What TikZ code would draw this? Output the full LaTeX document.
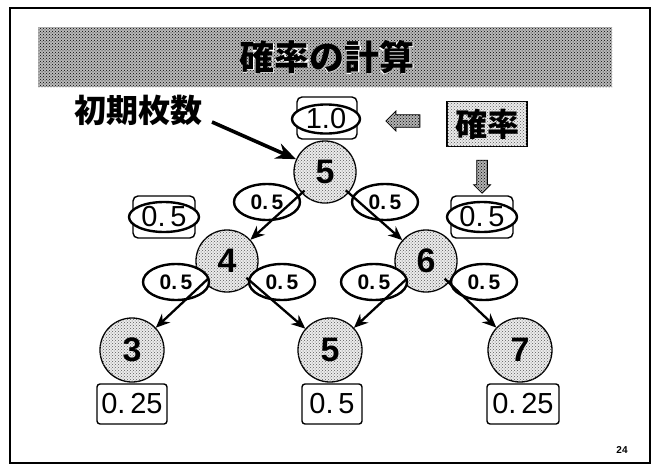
\documentclass[tikz,border=0pt]{standalone}
\usepackage{fontspec}
\setmainfont{Liberation Sans}
\newfontfamily\jp{Noto Sans CJK JP}
\newfontfamily\jphalo[FakeBold=6]{Noto Sans CJK JP}
\usetikzlibrary{shapes.geometric,shapes.arrows,arrows.meta,patterns}
\begin{document}
\begin{tikzpicture}[x=1pt,y=-1pt,
  texfill/.style={fill=gray!15,postaction={pattern=crosshatch dots,pattern color=gray!70!black}},
  darktex/.style={fill=gray!60,postaction={pattern=crosshatch dots,pattern color=black}},
  circ/.style={circle,draw,line width=1.3pt,texfill,minimum size=64pt,inner sep=0pt,
    font=\fontsize{34}{34}\selectfont\bfseries},
  pell/.style={ellipse,draw,line width=2.4pt,fill=white,minimum width=66pt,minimum height=36pt,inner sep=0pt,
    font=\fontsize{21}{21}\selectfont\bfseries},
  resbox/.style={rectangle,rounded corners=3pt,draw,line width=1.4pt,fill=white,minimum height=40pt,inner sep=0pt,
    font=\fontsize{29}{29}\selectfont},
  ovbox/.style={rectangle,rounded corners=5pt,draw,line width=1.4pt,fill=white,minimum width=62pt,minimum height=42pt,inner sep=0pt},
  ovell/.style={ellipse,draw,line width=2.4pt,fill=white,minimum width=70pt,minimum height=30pt,inner sep=0pt,
    font=\fontsize{29}{29}\selectfont},
  arr/.style={-{Stealth[length=14pt,width=12pt]},line width=2.3pt},
  blockarr/.style={single arrow,draw,line width=0.8pt,darktex,minimum height=32pt,minimum width=20pt,
    single arrow head extend=2pt,single arrow tip angle=90,inner sep=3pt}
]
\useasboundingbox (0,0) rectangle (661,474);
% frame
\draw[line width=1.3pt] (10,8) rectangle (650,463);
% title banner
\path[fill=gray!55,postaction={pattern=crosshatch dots,pattern color=black}] (38,27) rectangle (612,87);
\node[white,font=\jphalo\fontsize{35}{35}\selectfont] (titlehalo) at (327,57) {確率の計算};
\node[font=\jp\bfseries\fontsize{35}{35}\selectfont] (title) at (327,57) {確率の計算};
% top row
\node[font=\jp\bfseries\fontsize{32}{32}\selectfont] (init) at (138,110) {初期枚数};
\node[ovbox,minimum width=60pt] (b10) at (327,118) {};
\node[ovell,minimum width=68pt,minimum height=28pt] (e10) at (326,119) {1.0};
\node[blockarr,shape border rotate=180,minimum height=34pt] (larr) at (406,121) {};
\node[rectangle,draw,line width=1.2pt,texfill,minimum width=80pt,minimum height=45pt,inner sep=0pt,
  font=\jp\bfseries\fontsize{32}{32}\selectfont] (prob) at (487,124) {確率};
\node[blockarr,shape border rotate=270,minimum height=33pt,minimum width=17pt] (darr) at (482,174) {};
% side probability boxes
\node[ovbox] (bl) at (164,217) {};
\node[ovell] (el) at (164,217) {0.\,5};
\node[ovbox] (br) at (482,217) {};
\node[ovell] (er) at (482,217) {0.\,5};
% tree nodes
\node[circ,minimum size=62pt] (n5) at (325,172) {5};
\node[pell] (p1) at (267,202) {0.\,5};
\node[pell] (p2) at (385,202) {0.\,5};
\node[circ,minimum size=62pt] (n4) at (227,261) {4};
\node[circ,minimum size=62pt] (n6) at (426,261) {6};
\node[pell] (p3) at (176,282) {0.\,5};
\node[pell] (p4) at (282,282) {0.\,5};
\node[pell] (p5) at (374,282) {0.\,5};
\node[pell] (p6) at (484,282) {0.\,5};
\node[circ] (n3) at (132,350) {3};
\node[circ] (n5b) at (330,350) {5};
\node[circ] (n7) at (520,350) {7};
\node[resbox,minimum width=70pt] (r3) at (132,404) {0.\,25};
\node[resbox,minimum width=60pt] (r5) at (332,404) {0.\,5};
\node[resbox,minimum width=72pt] (r7) at (523,404) {0.\,25};
\node[font=\bfseries\fontsize{10}{10}\selectfont] (pg) at (622,450) {24};
% connectors
\coordinate (ia) at (212,122);
\draw[-{Stealth[length=20pt,width=16pt]},line width=3.6pt] (ia) -- (n5);
\draw[arr,shorten <=-4pt] (n5) -- (n4);
\draw[arr,shorten <=-4pt] (n5) -- (n6);
\draw[arr,shorten <=-6pt] (n4) -- (n3);
\draw[arr,shorten <=-6pt] (n4) -- (n5b);
\draw[arr,shorten <=-6pt] (n6) -- (n5b);
\draw[arr,shorten <=-6pt] (n6) -- (n7);
\end{tikzpicture}
\end{document}
